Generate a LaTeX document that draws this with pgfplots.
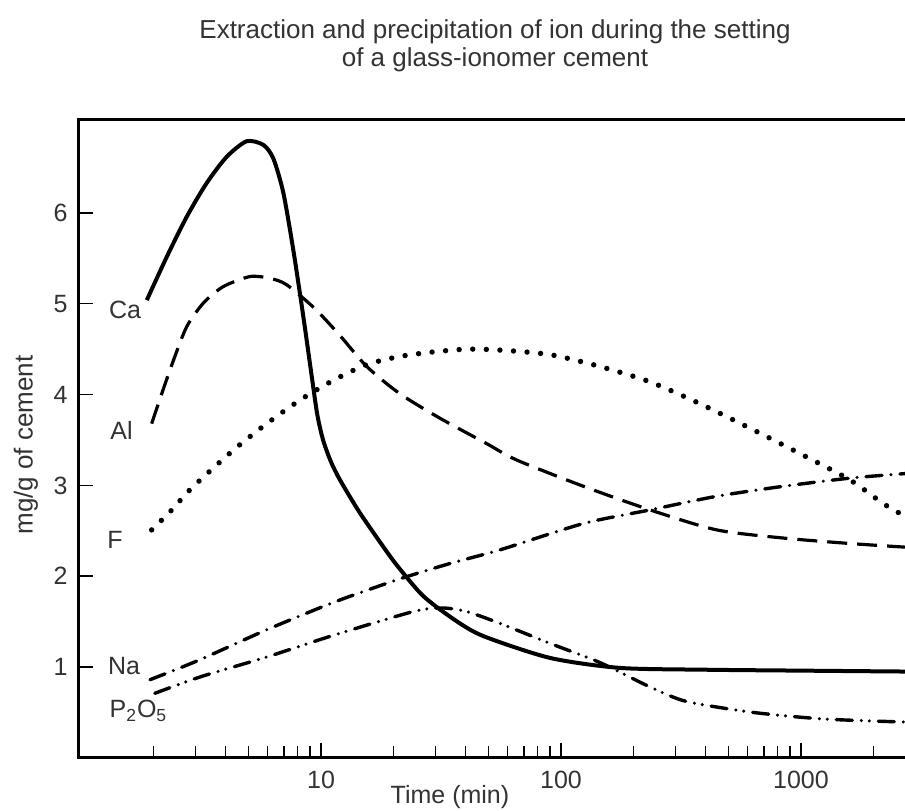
\documentclass[border=0pt]{standalone}
\usepackage{pgfplots}
\pgfplotsset{compat=1.18}
\usepackage{fontspec}
\setmainfont{Liberation Sans}
\newcommand{\lblfont}{\fontsize{12.5}{14}\selectfont}
\colorlet{txt}{black!80}
\begin{document}
\begin{tikzpicture}
\begin{axis}[
  at={(0,0)}, anchor=south west,
  scale only axis, width=481.5pt, height=319.4pt,
  xmode=log, xmin=0.9716, xmax=10000, ymin=0, ymax=7.035,
  axis line style={line width=1.5pt},
  xtick={10,100,1000}, xticklabels={10,100,1000},
  minor xtick={2,3,4,5,6,7,8,9,20,30,40,50,60,70,80,90,200,300,400,500,600,700,800,900,2000,3000,4000,5000,6000,7000,8000,9000},
  ytick={1,2,3,4,5,6},
  tick align=inside, tick pos=left,
  major tick length=7.5pt, minor tick length=6pt,
  tick style={black, line width=0.7pt},
  tick label style={font=\fontsize{12.5}{14}\selectfont, text=txt},
  /pgf/number format/assume math mode=true,
  xticklabel style={yshift=-3pt},
  yticklabel style={xshift=-1.7pt},
  every axis plot/.append style={black, smooth, tension=0.45},
]
% Ca
\addplot[line width=2pt] coordinates {
(1.88,5.04) (2.28,5.52) (2.76,5.96) (3.34,6.33) (4.05,6.62) (4.9,6.79) (5.75,6.75) (6.33,6.6) (6.97,6.22) (7.67,5.59) (8.44,4.86) (9.15,4.2) (9.65,3.78) (10.2,3.50) (11.0,3.26) (12.0,3.06) (14.5,2.70) (18.8,2.27) (21.3,2.08) (26.7,1.78) (36,1.52) (47.5,1.34) (90,1.10) (176,0.99) (400,0.97) (1000,0.96) (2710,0.95) (3200,0.95)
};
% Al
\addplot[line width=1.6pt, dash pattern=on 10pt off 5pt] coordinates {
(1.97,3.68) (2.17,4.01) (2.43,4.38) (2.76,4.75) (3.24,5.01) (3.92,5.19) (5.06,5.3) (6.13,5.28) (7.19,5.21) (9.4,4.95) (12,4.65) (15.5,4.31) (21.3,4.01) (31.3,3.74) (49,3.46) (65.3,3.28) (124,2.99) (235,2.73) (445,2.51) (844,2.42) (1600,2.36) (2710,2.32) (3200,2.31)
};
% F
\addplot[line width=2.7pt, line cap=round, dash pattern=on 0pt off 6.8pt] coordinates {
(1.97,2.51) (2.39,2.73) (2.89,2.97) (4.32,3.39) (5.94,3.68) (8.18,3.94) (11.3,4.16) (15.5,4.33) (21.3,4.42) (29.4,4.47) (40.5,4.5) (55.7,4.49) (90,4.44) (145,4.31) (235,4.14) (379,3.9) (613,3.63) (991,3.35) (1600,3.06) (2200,2.8) (2710,2.66) (3200,2.55)
};
% Na
\addplot[line width=1.7pt, line cap=round, dash pattern=on 8pt off 4.5pt on 0pt off 4.5pt] coordinates {
(1.94,0.86) (3.13,1.08) (5.94,1.41) (11.5,1.72) (21.3,1.97) (34.5,2.14) (55.7,2.29) (124,2.58) (235,2.73) (445,2.88) (844,2.99) (1600,3.08) (2710,3.13) (3200,3.15)
};
% P2O5
\addplot[line width=1.7pt, line cap=round, dash pattern=on 8pt off 4.5pt on 0pt off 4pt on 0pt off 4.5pt] coordinates {
(2.03,0.71) (3.13,0.89) (5.94,1.11) (11.3,1.35) (24.2,1.61) (32,1.65) (40.5,1.61) (55.7,1.48) (90,1.26) (145,1.05) (235,0.78) (334,0.62) (632,0.5) (1200,0.43) (2276,0.4) (3200,0.39)
};
\end{axis}
\begin{scope}[every node/.style={font=\lblfont, text=txt}]
\node at (23.5pt,223.9pt) {Ca};
\node at (21.8pt,163.9pt) {Al};
\node at (18.5pt,108.9pt) {F};
\node at (23pt,46pt) {Na};
\node at (30.2pt,23.5pt) {P\textsubscript{2}O\textsubscript{5}};
\node at (186pt,-19.6pt) {Time (min)};
\node[rotate=90, font=\fontsize{13}{15}\selectfont] at (-26pt,156.4pt) {mg/g of cement};
\node[align=center, font=\fontsize{13}{14}\selectfont] at (208.5pt,355.9pt) {Extraction and precipitation of ion during the setting\\of a glass-ionomer cement};
\end{scope}
\pgfresetboundingbox
\path[use as bounding box] (-39pt,-26.1pt) rectangle (413.5pt,378.9pt);
\end{tikzpicture}
\end{document}
